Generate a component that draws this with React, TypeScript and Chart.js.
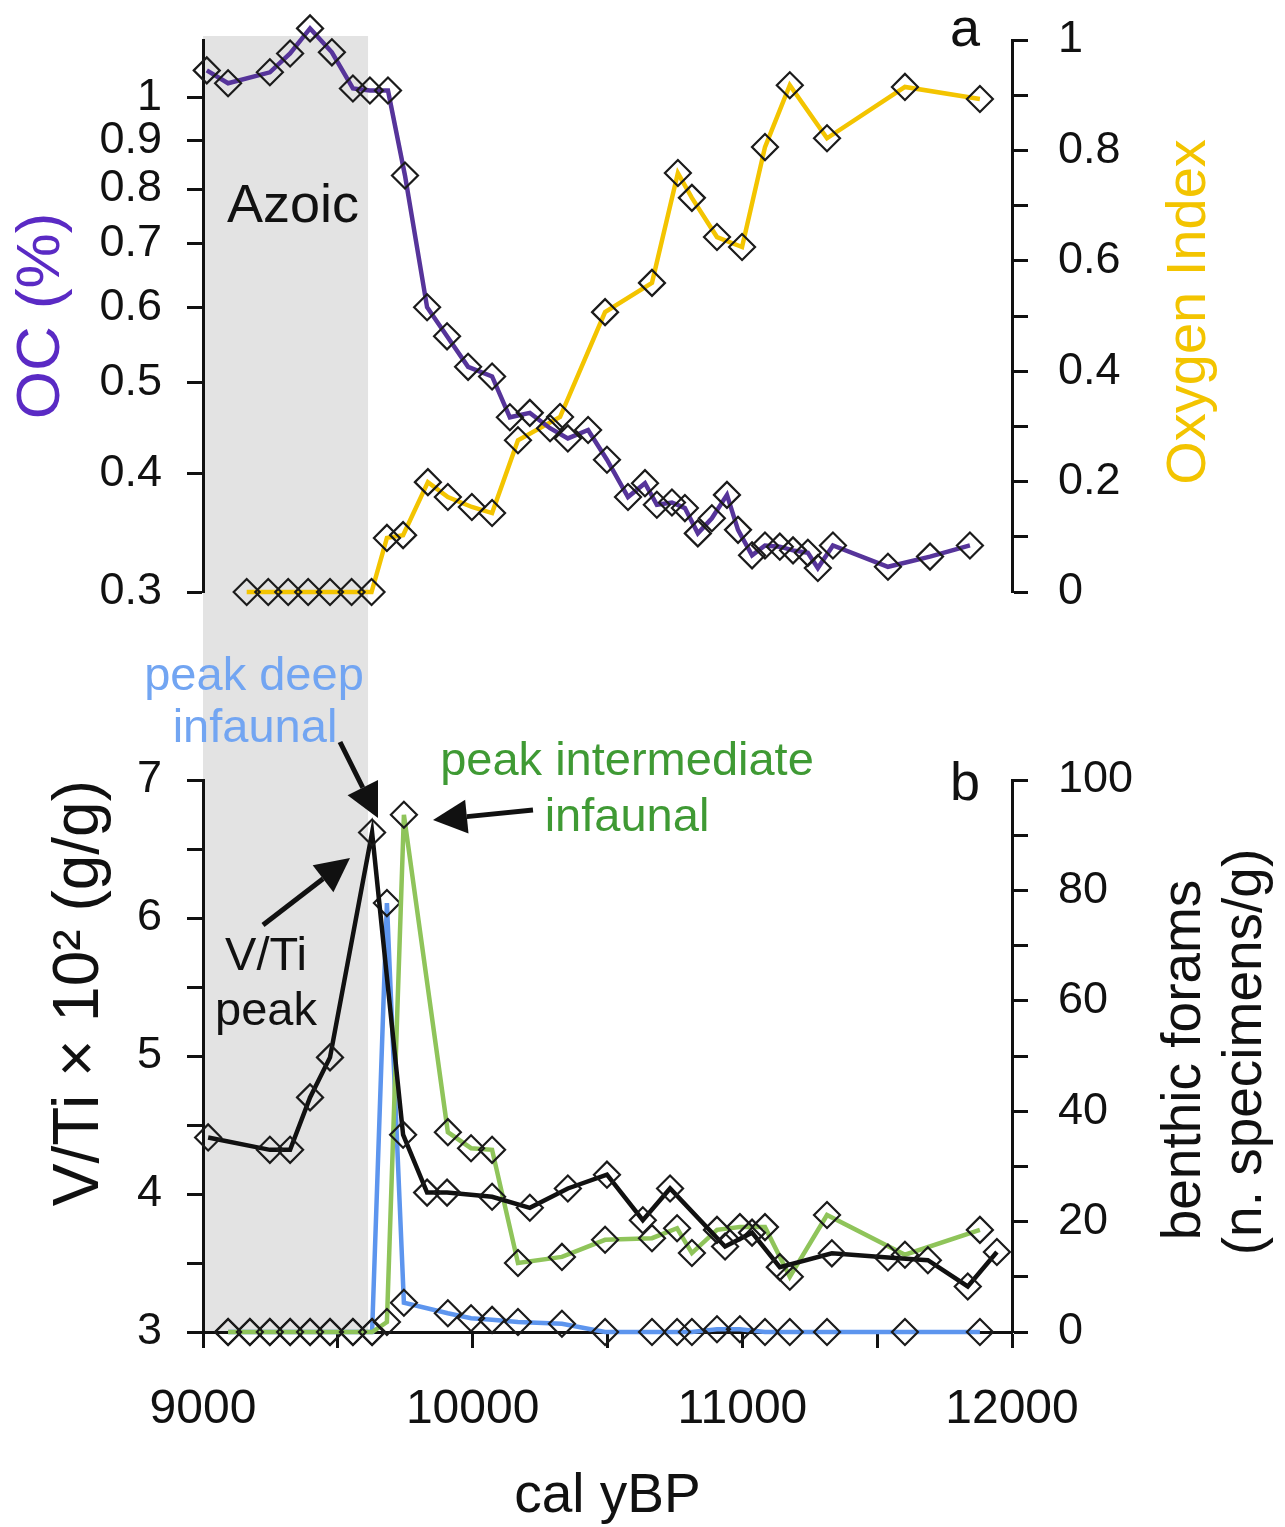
import React, { useEffect, useRef } from 'react';
import Chart from 'chart.js/auto';

const FONT = "'Liberation Sans', Arial, Helvetica, sans-serif";

// panel a: organic carbon (%), log axis
const ocYears = [9014, 9093, 9248, 9323, 9397, 9478, 9556, 9619, 9686, 9749, 9831, 9905, 9983, 10072, 10138, 10212, 10287, 10353, 10428, 10498, 10576, 10639, 10683, 10739, 10787, 10835, 10887, 10943, 10984, 11036, 11084, 11139, 11188, 11243, 11280, 11336, 11540, 11696, 11844];
const ocValues = [1.068, 1.035, 1.063, 1.113, 1.183, 1.116, 1.022, 1.017, 1.017, 0.827, 0.6, 0.559, 0.519, 0.507, 0.459, 0.464, 0.447, 0.436, 0.445, 0.414, 0.378, 0.391, 0.371, 0.373, 0.368, 0.346, 0.359, 0.38, 0.349, 0.328, 0.336, 0.335, 0.332, 0.33, 0.318, 0.336, 0.319, 0.327, 0.336];

// panel a: oxygen index
const oxYears = [9162, 9242, 9316, 9390, 9471, 9551, 9625, 9682, 9742, 9834, 9908, 9997, 10072, 10168, 10324, 10491, 10665, 10761, 10813, 10906, 10999, 11084, 11176, 11314, 11603, 11881];
const oxValues = [0, 0, 0, 0, 0, 0, 0, 0.098, 0.103, 0.199, 0.172, 0.154, 0.143, 0.275, 0.317, 0.507, 0.56, 0.759, 0.714, 0.643, 0.625, 0.806, 0.918, 0.822, 0.915, 0.893];

// panel b: V/Ti x 10^2
const vtiYears = [9019, 9248, 9323, 9397, 9471, 9627, 9742, 9831, 9905, 10072, 10212, 10353, 10498, 10631, 10732, 10936, 11036, 11139, 11332, 11540, 11688, 11836, 11944];
const vtiValues = [4.41, 4.32, 4.32, 4.7, 4.99, 6.62, 4.43, 4.01, 4.01, 3.98, 3.9, 4.04, 4.14, 3.81, 4.04, 3.62, 3.72, 3.47, 3.57, 3.54, 3.52, 3.33, 3.58];

// panel b: benthic forams (n. specimens/g)
const foramYears = [9093, 9174, 9248, 9323, 9397, 9471, 9556, 9627, 9682, 9745, 9908, 9994, 10072, 10168, 10331, 10491, 10665, 10758, 10813, 10906, 10991, 11084, 11176, 11314, 11603, 11881];
const intermediateInfaunal = [0, 0, 0, 0, 0, 0, 0, 0, 1.8, 93.7, 36.2, 33.3, 33.0, 12.5, 13.6, 16.7, 17.0, 18.8, 14.3, 18.5, 19.0, 19.0, 10.0, 21.2, 14.0, 18.5];
const deepInfaunal = [0, 0, 0, 0, 0, 0, 0, 0, 77.7, 5.3, 3.4, 2.5, 2.2, 1.8, 1.5, 0, 0, 0, 0, 0.5, 0.5, 0, 0, 0, 0, 0];

const ocTicks = [0.3, 0.4, 0.5, 0.6, 0.7, 0.8, 0.9, 1];
const AZOIC_START = 9000;
const AZOIC_END = 9612;

const W = 1285;
const TOP_H = 620;
const BOTTOM_H = 907;
const PLOT_LEFT = 203;
const PLOT_RIGHT = 1012;

const PURPLE = '#56349a';
const PURPLE_TEXT = '#5a2ac4';
const YELLOW = '#f3c400';
const BLUE = '#5d95ee';
const BLUE_TEXT = '#72a5f2';
const GREEN = '#8fc45a';
const GREEN_TEXT = '#3f9a34';
const INK = '#111';

const pts = (xs: number[], ys: number[]) => xs.map((x, i) => ({ x, y: ys[i] }));

const series = (color: string) => ({
    borderColor: color,
    borderWidth: 4.5,
    tension: 0,
    pointStyle: 'rectRot' as const,
    pointRadius: 13,
    pointBorderWidth: 2.2,
    pointBorderColor: '#1b1b1b',
    pointBackgroundColor: 'rgba(0,0,0,0)',
    clip: false as const,
});

const axisLine = {
    grid: { drawOnChartArea: false, drawTicks: true, tickLength: 16, tickColor: INK, tickWidth: 3 },
    border: { display: true, color: INK, width: 3 },
};

// fixed width for a y axis and no extra label padding above/below the plot
const fitY = (width: number) => (s: any) => {
    s.width = width;
    s.paddingTop = 0;
    s.paddingBottom = 0;
};

const grey = (fromCanvasTop: boolean) => ({
    id: 'azoic',
    beforeDraw(chart: any) {
        const { ctx, chartArea, scales } = chart;
        const x0 = scales.x.getPixelForValue(AZOIC_START);
        const x1 = scales.x.getPixelForValue(AZOIC_END);
        const y0 = fromCanvasTop ? 0 : chartArea.top - 4;
        const y1 = fromCanvasTop ? chartArea.bottom : chart.height;
        ctx.save();
        ctx.fillStyle = '#e3e3e3';
        ctx.fillRect(x0, y0, x1 - x0, y1 - y0);
        ctx.restore();
    },
});

const text = (ctx: CanvasRenderingContext2D, s: string, x: number, y: number, size: number, color: string, rotate = false) => {
    ctx.save();
    ctx.font = `${size}px ${FONT}`;
    ctx.fillStyle = color;
    ctx.textAlign = 'center';
    ctx.textBaseline = rotate ? 'middle' : 'alphabetic';
    ctx.translate(x, y);
    if (rotate) ctx.rotate(-Math.PI / 2);
    ctx.fillText(s, 0, 0);
    ctx.restore();
};

const arrow = (ctx: CanvasRenderingContext2D, x0: number, y0: number, x1: number, y1: number) => {
    const head = 34;
    const half = 17;
    const a = Math.atan2(y1 - y0, x1 - x0);
    const bx = x1 - head * Math.cos(a);
    const by = y1 - head * Math.sin(a);
    ctx.save();
    ctx.strokeStyle = INK;
    ctx.fillStyle = INK;
    ctx.lineWidth = 5;
    ctx.beginPath();
    ctx.moveTo(x0, y0);
    ctx.lineTo(bx, by);
    ctx.stroke();
    ctx.beginPath();
    ctx.moveTo(x1, y1);
    ctx.lineTo(bx + half * Math.sin(a), by - half * Math.cos(a));
    ctx.lineTo(bx - half * Math.sin(a), by + half * Math.cos(a));
    ctx.closePath();
    ctx.fill();
    ctx.restore();
};

const topLabels = {
    id: 'topLabels',
    afterDraw(chart: any) {
        const ctx = chart.ctx;
        text(ctx, 'Azoic', 293, 222, 54, INK);
        text(ctx, 'a', 965, 46, 54, INK);
        text(ctx, 'Oxygen Index', 1190, 312, 56, YELLOW, true);
    },
};

const OFF = TOP_H; // bottom canvas starts here on the page
const bottomLabels = {
    id: 'bottomLabels',
    afterDraw(chart: any) {
        const ctx = chart.ctx;
        text(ctx, 'peak deep', 254, 690 - OFF, 47, BLUE_TEXT);
        text(ctx, 'infaunal', 255, 742 - OFF, 47, BLUE_TEXT);
        text(ctx, 'peak intermediate', 627, 775 - OFF, 47, GREEN_TEXT);
        text(ctx, 'infaunal', 627, 831 - OFF, 47, GREEN_TEXT);
        text(ctx, 'V/Ti', 266, 970 - OFF, 47, INK);
        text(ctx, 'peak', 266, 1025 - OFF, 47, INK);
        text(ctx, 'b', 965, 800 - OFF, 54, INK);
        text(ctx, 'benthic forams', 1185, 1060 - OFF, 55, INK, true);
        text(ctx, '(n. specimens/g)', 1246, 1052 - OFF, 55, INK, true);
        arrow(ctx, 340, 742 - OFF, 378, 818 - OFF);
        arrow(ctx, 533, 810 - OFF, 433, 820 - OFF);
        arrow(ctx, 263, 925 - OFF, 350, 858 - OFF);
    },
};

const TopPanel = () => {
    const canvasRef = useRef<HTMLCanvasElement>(null);
    useEffect(() => {
        if (!canvasRef.current) return;
        const chart = new Chart(canvasRef.current, {
            type: 'line',
            data: {
                datasets: [
                    { label: 'OC', data: pts(ocYears, ocValues), yAxisID: 'oc', ...series(PURPLE) },
                    { label: 'Oxygen Index', data: pts(oxYears, oxValues), yAxisID: 'ox', ...series(YELLOW) },
                ],
            },
            options: {
                responsive: false,
                animation: false,
                events: [],
                layout: { padding: { top: 40, bottom: TOP_H - 592, left: 0, right: 0 } },
                plugins: { legend: { display: false }, tooltip: { enabled: false } },
                scales: {
                    x: { type: 'linear', min: 9000, max: 12000, display: false },
                    oc: {
                        type: 'logarithmic',
                        position: 'left',
                        min: 0.3,
                        max: 1.15,
                        afterFit: fitY(PLOT_LEFT),
                        afterBuildTicks: (s: any) => { s.ticks = ocTicks.map((v) => ({ value: v })); },
                        ticks: { callback: (v: any) => String(v), autoSkip: false, padding: 25, color: INK, font: { size: 45 } },
                        title: { display: true, text: 'OC (%)', color: PURPLE_TEXT, font: { size: 62 }, padding: { top: 5, bottom: 0 } },
                        ...axisLine,
                    },
                    ox: {
                        type: 'linear',
                        position: 'right',
                        min: 0,
                        max: 1,
                        afterFit: fitY(W - PLOT_RIGHT),
                        ticks: {
                            stepSize: 0.1,
                            autoSkip: false,
                            padding: 30,
                            color: INK,
                            font: { size: 45 },
                            callback: (v: any) => {
                                const t = Math.round(v * 10);
                                return t % 2 === 0 ? String(t / 10) : '';
                            },
                        },
                        ...axisLine,
                    },
                },
            } as any,
            plugins: [grey(false), topLabels],
        });
        return () => chart.destroy();
    }, []);
    return <canvas ref={canvasRef} width={W} height={TOP_H} style={{ position: 'absolute', left: 0, top: 0, width: W, height: TOP_H }} />;
};

const BottomPanel = () => {
    const canvasRef = useRef<HTMLCanvasElement>(null);
    useEffect(() => {
        if (!canvasRef.current) return;
        const chart = new Chart(canvasRef.current, {
            type: 'line',
            data: {
                datasets: [
                    { label: 'V/Ti', data: pts(vtiYears, vtiValues), yAxisID: 'vti', ...series('#111') },
                    { label: 'intermediate infaunal', data: pts(foramYears, intermediateInfaunal), yAxisID: 'forams', ...series(GREEN) },
                    { label: 'deep infaunal', data: pts(foramYears, deepInfaunal), yAxisID: 'forams', ...series(BLUE) },
                ],
            },
            options: {
                responsive: false,
                animation: false,
                events: [],
                layout: { padding: { top: 780 - OFF, bottom: 0, left: 0, right: 0 } },
                plugins: { legend: { display: false }, tooltip: { enabled: false } },
                scales: {
                    x: {
                        type: 'linear',
                        min: 9000,
                        max: 12000,
                        afterFit: (s: any) => { s.height = BOTTOM_H - (1332 - OFF); },
                        ticks: {
                            stepSize: 500,
                            autoSkip: false,
                            maxRotation: 0,
                            padding: 33,
                            color: INK,
                            font: { size: 48 },
                            callback: (v: any) => (v % 1000 === 0 ? String(v) : ''),
                        },
                        title: { display: true, text: 'cal yBP', color: INK, font: { size: 55, lineHeight: 1.1 }, padding: 0 },
                        ...axisLine,
                    },
                    vti: {
                        type: 'linear',
                        position: 'left',
                        min: 3,
                        max: 7,
                        afterFit: fitY(PLOT_LEFT),
                        ticks: {
                            stepSize: 0.5,
                            autoSkip: false,
                            padding: 25,
                            color: INK,
                            font: { size: 45 },
                            callback: (v: any) => (Number.isInteger(v) ? String(v) : ''),
                        },
                        title: { display: true, text: 'V/Ti \u00D7 10\u00B2 (g/g)', align: 'end', color: INK, font: { size: 64 }, padding: { top: 42, bottom: 0 } },
                        ...axisLine,
                    },
                    forams: {
                        type: 'linear',
                        position: 'right',
                        min: 0,
                        max: 100,
                        afterFit: fitY(W - PLOT_RIGHT),
                        ticks: {
                            stepSize: 10,
                            autoSkip: false,
                            padding: 30,
                            color: INK,
                            font: { size: 45 },
                            callback: (v: any) => (v % 20 === 0 ? String(v) : ''),
                        },
                        ...axisLine,
                    },
                },
            } as any,
            plugins: [grey(true), bottomLabels],
        });
        return () => chart.destroy();
    }, []);
    return <canvas ref={canvasRef} width={W} height={BOTTOM_H} style={{ position: 'absolute', left: 0, top: OFF, width: W, height: BOTTOM_H }} />;
};

export default function App() {
    Chart.defaults.font.family = FONT;
    return (
        <div style={{ position: 'absolute', left: 0, top: 0, width: W, height: TOP_H + BOTTOM_H, background: '#fff' }}>
            <TopPanel />
            <BottomPanel />
        </div>
    );
}
